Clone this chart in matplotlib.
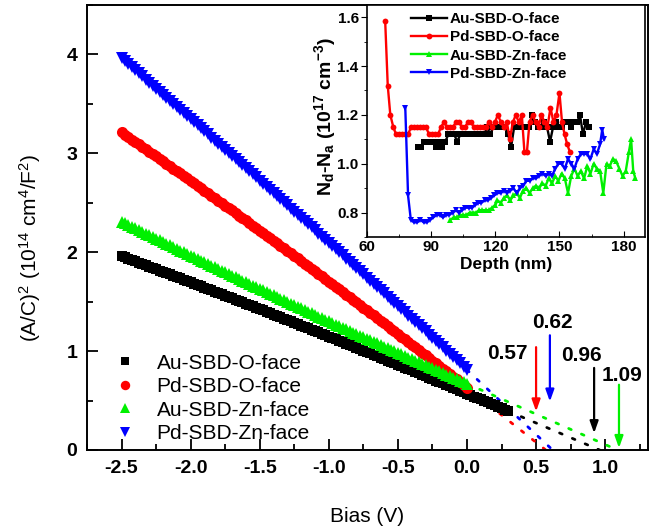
import numpy as np
import matplotlib
matplotlib.use("Agg")
import matplotlib.pyplot as plt
from matplotlib.ticker import MultipleLocator

plt.rcParams['font.family'] = ['Liberation Sans', 'DejaVu Sans']
plt.rcParams['mathtext.default'] = 'regular'
plt.rcParams['axes.unicode_minus'] = False

# ---------------- main data ----------------
bias = [-2.500, -2.475, -2.450, -2.425, -2.400, -2.375, -2.350, -2.325, -2.300, -2.275,
        -2.250, -2.225, -2.200, -2.175, -2.150, -2.125, -2.100, -2.075, -2.050, -2.025,
        -2.000, -1.975, -1.950, -1.925, -1.900, -1.875, -1.850, -1.825, -1.800, -1.775,
        -1.750, -1.725, -1.700, -1.675, -1.650, -1.625, -1.600, -1.575, -1.550, -1.525,
        -1.500, -1.475, -1.450, -1.425, -1.400, -1.375, -1.350, -1.325, -1.300, -1.275,
        -1.250, -1.225, -1.200, -1.175, -1.150, -1.125, -1.100, -1.075, -1.050, -1.025,
        -1.000, -0.975, -0.950, -0.925, -0.900, -0.875, -0.850, -0.825, -0.800, -0.775,
        -0.750, -0.725, -0.700, -0.675, -0.650, -0.625, -0.600, -0.575, -0.550, -0.525,
        -0.500, -0.475, -0.450, -0.425, -0.400, -0.375, -0.350, -0.325, -0.300, -0.275,
        -0.250, -0.225, -0.200, -0.175, -0.150, -0.125, -0.100, -0.075, -0.050, -0.025, 0.000]
bias_forward = [0.025, 0.050, 0.075, 0.100, 0.125, 0.150, 0.175, 0.200, 0.225, 0.250,
                0.275, 0.300]
bias_au_o = bias + bias_forward

au_o = [1.960, 1.947, 1.934, 1.921, 1.908, 1.894, 1.881, 1.868, 1.855, 1.842,
        1.829, 1.815, 1.802, 1.789, 1.776, 1.763, 1.749, 1.735, 1.722, 1.709,
        1.696, 1.683, 1.669, 1.656, 1.642, 1.628, 1.615, 1.602, 1.588, 1.574,
        1.561, 1.548, 1.534, 1.521, 1.507, 1.493, 1.479, 1.466, 1.452, 1.438,
        1.424, 1.411, 1.397, 1.383, 1.369, 1.356, 1.342, 1.328, 1.314, 1.300,
        1.286, 1.272, 1.258, 1.245, 1.231, 1.217, 1.203, 1.189, 1.175, 1.160,
        1.146, 1.132, 1.118, 1.104, 1.090, 1.076, 1.062, 1.048, 1.033, 1.019,
        1.005, 0.990, 0.976, 0.962, 0.948, 0.934, 0.919, 0.905, 0.891, 0.877,
        0.862, 0.848, 0.833, 0.819, 0.804, 0.790, 0.775, 0.761, 0.746, 0.731,
        0.716, 0.702, 0.687, 0.673, 0.658, 0.644, 0.629, 0.615, 0.600, 0.585,
        0.570, 0.555, 0.540, 0.526, 0.511, 0.496, 0.481, 0.467, 0.452, 0.437,
        0.422, 0.407, 0.392]
pd_o = [3.211, 3.187, 3.163, 3.138, 3.114, 3.090, 3.066, 3.041, 3.017, 2.993,
        2.968, 2.944, 2.919, 2.895, 2.870, 2.846, 2.821, 2.797, 2.772, 2.747,
        2.722, 2.697, 2.672, 2.648, 2.623, 2.598, 2.573, 2.548, 2.523, 2.498,
        2.472, 2.447, 2.422, 2.397, 2.371, 2.346, 2.321, 2.296, 2.270, 2.245,
        2.219, 2.194, 2.168, 2.143, 2.117, 2.092, 2.066, 2.040, 2.014, 1.989,
        1.963, 1.937, 1.911, 1.885, 1.859, 1.833, 1.807, 1.781, 1.755, 1.729,
        1.703, 1.677, 1.651, 1.625, 1.598, 1.572, 1.545, 1.519, 1.493, 1.467,
        1.440, 1.414, 1.387, 1.361, 1.334, 1.307, 1.280, 1.254, 1.227, 1.200,
        1.173, 1.147, 1.120, 1.093, 1.066, 1.039, 1.012, 0.985, 0.958, 0.931,
        0.903, 0.876, 0.849, 0.822, 0.794, 0.767, 0.740, 0.713, 0.685, 0.658, 0.630]
au_zn = [2.310, 2.292, 2.275, 2.257, 2.240, 2.223, 2.206, 2.189, 2.172, 2.154,
         2.137, 2.120, 2.102, 2.085, 2.068, 2.051, 2.034, 2.017, 2.000, 1.983,
         1.966, 1.948, 1.931, 1.914, 1.898, 1.881, 1.864, 1.847, 1.830, 1.813,
         1.796, 1.779, 1.763, 1.746, 1.730, 1.713, 1.696, 1.679, 1.662, 1.646,
         1.630, 1.613, 1.596, 1.580, 1.563, 1.546, 1.530, 1.514, 1.498, 1.481,
         1.465, 1.448, 1.432, 1.416, 1.399, 1.383, 1.367, 1.350, 1.334, 1.317,
         1.301, 1.285, 1.269, 1.253, 1.237, 1.221, 1.205, 1.188, 1.172, 1.156,
         1.140, 1.124, 1.109, 1.093, 1.077, 1.061, 1.045, 1.029, 1.013, 0.997,
         0.982, 0.966, 0.950, 0.934, 0.919, 0.903, 0.887, 0.871, 0.856, 0.840,
         0.825, 0.809, 0.794, 0.778, 0.762, 0.747, 0.732, 0.716, 0.701, 0.685, 0.670]
pd_zn = [3.960, 3.930, 3.899, 3.869, 3.838, 3.808, 3.777, 3.746, 3.715, 3.685,
         3.654, 3.624, 3.593, 3.562, 3.531, 3.500, 3.469, 3.439, 3.408, 3.377,
         3.346, 3.315, 3.284, 3.253, 3.222, 3.191, 3.160, 3.129, 3.098, 3.067,
         3.036, 3.005, 2.974, 2.943, 2.911, 2.880, 2.849, 2.818, 2.787, 2.756,
         2.724, 2.693, 2.661, 2.630, 2.599, 2.568, 2.536, 2.505, 2.473, 2.442,
         2.410, 2.379, 2.347, 2.316, 2.284, 2.253, 2.221, 2.189, 2.157, 2.126,
         2.094, 2.063, 2.031, 1.999, 1.967, 1.935, 1.903, 1.872, 1.840, 1.808,
         1.776, 1.744, 1.712, 1.680, 1.648, 1.616, 1.584, 1.552, 1.520, 1.488,
         1.456, 1.424, 1.392, 1.360, 1.327, 1.295, 1.263, 1.231, 1.199, 1.167,
         1.134, 1.102, 1.069, 1.037, 1.005, 0.972, 0.940, 0.908, 0.875, 0.843, 0.810]

labels = ['Au-SBD-O-face', 'Pd-SBD-O-face', 'Au-SBD-Zn-face', 'Pd-SBD-Zn-face']
intercepts = [0.96, 0.57, 1.09, 0.62]
intercept_labels = ['0.96', '0.57', '1.09', '0.62']

# ---------------- inset data ----------------
depth_au_o = [84.0, 85.4, 86.8, 88.2, 89.6, 91.0, 92.4, 93.8, 95.2, 96.6, 98.0, 99.4,
              100.8, 102.2, 103.6, 105.0, 106.4, 107.8, 109.2, 110.6, 112.0, 113.4,
              114.8, 116.2, 117.6, 119.0, 120.4, 121.8, 123.2, 124.6, 126.0, 127.4,
              128.8, 130.2, 131.6, 133.0, 134.4, 135.8, 137.2, 138.6, 140.0, 141.4,
              142.8, 144.2, 145.6, 147.0, 148.4, 149.8, 151.2, 152.6, 154.0, 155.4,
              156.8, 158.2, 159.6, 161.0, 162.4, 163.6]
nd_au_o = [1.07, 1.07, 1.09, 1.09, 1.09, 1.09, 1.07, 1.09, 1.07, 1.09, 1.12, 1.12,
           1.12, 1.09, 1.12, 1.12, 1.12, 1.12, 1.12, 1.12, 1.12, 1.12,
           1.12, 1.15, 1.12, 1.15, 1.15, 1.15, 1.15, 1.15, 1.12, 1.07,
           1.15, 1.15, 1.15, 1.15, 1.15, 1.15, 1.20, 1.17, 1.15, 1.15,
           1.17, 1.15, 1.09, 1.15, 1.17, 1.15, 1.15, 1.17, 1.17, 1.15,
           1.17, 1.17, 1.20, 1.12, 1.17, 1.15]

depth_pd_o = [68.5, 69.7, 70.9, 72.3, 73.6, 75.0, 76.4, 77.8, 79.2, 80.6, 82.0, 83.4,
              84.8, 86.2, 87.6, 89.0, 90.4, 91.8, 93.2, 94.6, 96.0, 97.4, 98.8,
              100.2, 101.6, 103.0, 104.4, 105.8, 107.2, 108.6, 110.0, 111.4, 112.8,
              114.2, 115.6, 117.0, 118.4, 119.8, 121.2, 122.6, 124.0, 125.4, 126.8,
              128.2, 129.6, 131.0, 132.4, 133.6, 134.8, 136.0, 137.4, 138.8, 140.2,
              141.6, 143.0, 144.4, 145.8, 147.2, 148.6, 150.0, 151.2, 152.4, 153.6, 154.8]
nd_pd_o = [1.585, 1.32, 1.20, 1.15, 1.12, 1.12, 1.12, 1.12, 1.12, 1.15, 1.15, 1.15,
           1.15, 1.15, 1.15, 1.12, 1.12, 1.12, 1.12, 1.15, 1.17, 1.15, 1.15,
           1.15, 1.17, 1.17, 1.15, 1.15, 1.17, 1.17, 1.15, 1.15, 1.15,
           1.15, 1.15, 1.17, 1.15, 1.17, 1.20, 1.17, 1.15, 1.17, 1.10,
           1.17, 1.20, 1.17, 1.20, 1.05, 1.05, 1.17, 1.20, 1.17, 1.15,
           1.20, 1.17, 1.15, 1.23, 1.17, 1.20, 1.29, 1.17, 1.12, 1.08, 1.05]

depth_au_zn = [99.0, 100.5, 102.0, 103.5, 105.0, 106.5, 108.0, 109.5, 111.0, 112.5,
               114.0, 115.5, 117.0, 118.5, 120.0, 121.0, 122.5, 124.0, 125.5, 127.0,
               128.5, 130.0, 131.5, 133.0, 134.5, 136.0, 137.5, 139.0, 140.5, 142.0,
               143.5, 145.0, 146.5, 148.0, 149.5, 151.0, 152.5, 154.0, 155.5, 157.0,
               158.5, 160.0, 161.5, 163.0, 164.5, 166.0, 167.5, 169.0, 170.5, 172.0,
               173.5, 175.0, 176.5, 178.0, 179.5, 181.0, 182.5, 183.5, 184.5, 185.5]
nd_au_zn = [0.77, 0.78, 0.78, 0.79, 0.79, 0.79, 0.80, 0.80, 0.80, 0.81,
            0.81, 0.81, 0.81, 0.82, 0.83, 0.85, 0.84, 0.86, 0.87, 0.85,
            0.87, 0.88, 0.86, 0.89, 0.90, 0.88, 0.90, 0.91, 0.90, 0.92,
            0.91, 0.94, 0.92, 0.95, 0.93, 0.96, 0.94, 0.88, 0.95, 0.98,
            0.95, 0.97, 0.94, 0.99, 0.96, 1.00, 0.98, 0.97, 0.88, 1.00,
            0.99, 1.02, 1.01, 0.98, 0.95, 0.97, 1.05, 1.10, 0.97, 0.94]

depth_pd_zn = [77.9, 79.2, 80.5, 82.0, 83.5, 85.0, 86.5, 88.0, 89.5, 91.0, 92.5, 94.0,
               95.5, 97.0, 98.5, 100.0, 101.5, 103.0, 104.5, 106.0, 107.5, 109.0,
               110.5, 112.0, 113.5, 115.0, 116.5, 118.0, 119.5, 121.0, 122.5, 124.0,
               125.5, 127.0, 128.5, 130.0, 131.5, 133.0, 134.5, 136.0, 137.5, 139.0,
               140.5, 142.0, 143.5, 145.0, 146.5, 148.0, 149.5, 151.0, 152.5, 154.0,
               155.5, 157.0, 158.5, 160.0, 161.5, 163.0, 164.5, 166.0, 167.5, 169.0,
               170.0, 170.8]
nd_pd_zn = [1.23, 0.87, 0.77, 0.76, 0.76, 0.77, 0.76, 0.76, 0.77, 0.78, 0.79, 0.79,
            0.78, 0.79, 0.79, 0.80, 0.81, 0.80, 0.81, 0.82, 0.82, 0.82,
            0.83, 0.84, 0.84, 0.85, 0.85, 0.86, 0.87, 0.88, 0.88, 0.89,
            0.88, 0.89, 0.90, 0.88, 0.90, 0.91, 0.93, 0.93, 0.94, 0.94,
            0.95, 0.96, 0.95, 0.96, 0.95, 0.98, 1.00, 1.00, 0.98, 1.02,
            1.00, 0.98, 1.02, 1.04, 1.04, 1.04, 1.02, 1.06, 1.04, 1.08,
            1.14, 1.10]

colors = ['#000000', '#ff0000', '#00f000', '#0000ff']
markers = ['s', 'o', '^', 'v']

# ---------------- figure ----------------
fig = plt.figure(figsize=(6.58, 5.31), dpi=100)
W, H = 658, 531
ax = fig.add_axes([87 / W, (H - 450) / H, (648 - 87) / W, (450 - 5) / H])

xs_list = [bias_au_o, bias, bias, bias]
ys_list = [au_o, pd_o, au_zn, pd_zn]
msizes = [7.0, 8.0, 8.0, 8.0]
for xs, ys, c, m, lab, ms in zip(xs_list, ys_list, colors, markers, labels, msizes):
    ax.plot(xs, ys, linestyle='none', marker=m, color=c, markersize=ms,
            markeredgewidth=0, label=lab, zorder=3)

# extrapolation dotted lines
for xs, ys, c, x0 in zip(xs_list, ys_list, colors, intercepts):
    ax.plot([xs[-1], x0], [ys[-1], 0.0], color=c, linestyle=(0, (1, 4)),
            linewidth=2.0, dash_capstyle='round', zorder=2)

# arrows and labels (order: Au-O, Pd-O, Au-Zn, Pd-Zn)
arrow_x = [0.92, 0.50, 1.10, 0.60]
arrow_top = [0.83, 1.04, 0.66, 1.16]
arrow_tip = [0.17, 0.39, 0.02, 0.49]
text_xy = [(0.83, 0.96), (0.29, 0.98), (1.12, 0.75), (0.62, 1.29)]
for c, xa, yt, yb, (tx, ty), s in zip(colors, arrow_x, arrow_top, arrow_tip,
                                      text_xy, intercept_labels):
    ax.annotate('', xy=(xa, yb), xytext=(xa, yt),
                arrowprops=dict(arrowstyle='-|>,head_length=0.7,head_width=0.25',
                                color=c, lw=1.6, shrinkA=0, shrinkB=0), zorder=4)
    ax.text(tx, ty, s, fontsize=15, fontweight='bold', ha='center', va='center',
            color='black', zorder=5)

ax.set_xlim(-2.75, 1.31)
ax.set_ylim(0, 4.5)
ax.xaxis.set_minor_locator(MultipleLocator(0.25))
ax.yaxis.set_major_locator(MultipleLocator(1))
ax.yaxis.set_minor_locator(MultipleLocator(0.5))
ax.set_xticks([-2.5, -2.0, -1.5, -1.0, -0.5, 0.0, 0.5, 1.0])
ax.tick_params(which='both', direction='in', top=False, right=False, width=1.3)
ax.tick_params(which='major', length=8, labelsize=14, pad=7)
ax.tick_params(which='minor', length=4)
for lab in ax.get_xticklabels() + ax.get_yticklabels():
    lab.set_fontweight('bold')
for sp in ax.spines.values():
    sp.set_linewidth(1.4)

ax.set_xlabel('Bias (V)', fontsize=15, labelpad=22)
ax.set_ylabel('(A/C)$^2$ (10$^{14}$ cm$^4$/F$^2$)', fontsize=15)
ax.yaxis.set_label_coords(-0.078, 0.455)

leg = ax.legend(loc='lower left', bbox_to_anchor=(0.05, 0.015), frameon=False,
                fontsize=15, handlelength=1.0, handletextpad=1.0, labelspacing=0.22,
                borderaxespad=0, borderpad=0, markerscale=0.85)

# ---------------- inset ----------------
axin = fig.add_axes([367 / W, (H - 237) / H, (645 - 367) / W, (237 - 5) / H])
inset_x = [depth_au_o, depth_pd_o, depth_au_zn, depth_pd_zn]
inset_y = [nd_au_o, nd_pd_o, nd_au_zn, nd_pd_zn]
in_ms = [4.0, 4.2, 4.6, 4.6]
for xs, ys, c, m, lab, ms in zip(inset_x, inset_y, colors, markers, labels, in_ms):
    axin.plot(xs, ys, color=c, marker=m, markersize=ms, linewidth=1.7,
              markeredgewidth=0, label=lab)
axin.set_xlim(60, 190)
axin.set_ylim(0.70, 1.65)
axin.xaxis.set_major_locator(MultipleLocator(30))
axin.xaxis.set_minor_locator(MultipleLocator(15))
axin.yaxis.set_major_locator(MultipleLocator(0.2))
axin.yaxis.set_minor_locator(MultipleLocator(0.1))
axin.tick_params(axis='x', which='both', direction='in', top=False)
axin.tick_params(axis='y', which='both', direction='out', right=False)
axin.tick_params(which='major', length=4, labelsize=11, pad=2)
axin.tick_params(which='minor', length=2.5)
for lab in axin.get_xticklabels() + axin.get_yticklabels():
    lab.set_fontweight('bold')
for sp in axin.spines.values():
    sp.set_linewidth(1.2)
axin.set_xlabel('Depth (nm)', fontsize=12.5, fontweight='bold', labelpad=2)
axin.set_ylabel('N$_d$-N$_a$ (10$^{17}$ cm$^{-3}$)', fontsize=14, fontweight='bold')
axin.yaxis.set_label_coords(-0.105, 0.52)
axin.legend(loc='upper left', bbox_to_anchor=(0.16, 0.97), frameon=False,
            prop={'weight': 'bold', 'size': 11}, handlelength=2.3,
            handletextpad=0.2, labelspacing=0.28, borderaxespad=0, borderpad=0,
            numpoints=1)

fig.savefig('out.png', dpi=100)
